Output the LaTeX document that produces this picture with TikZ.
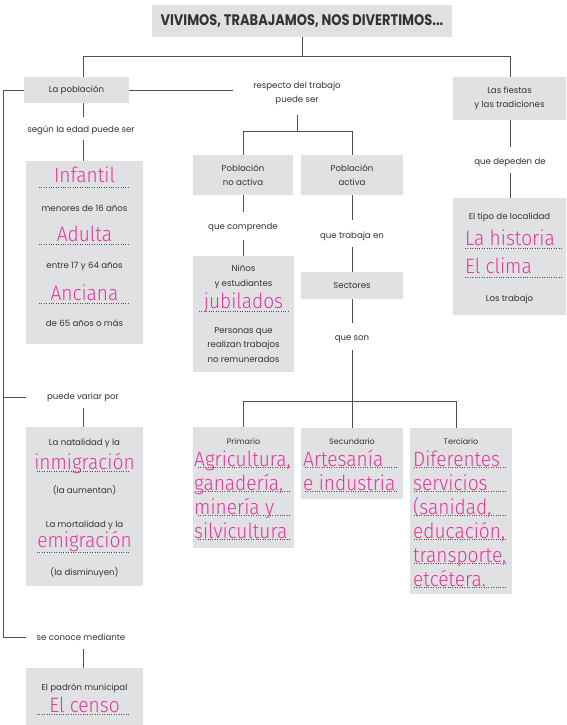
\documentclass[tikz,border=0pt]{standalone}
\usepackage{fontspec}
\setmainfont{Poppins}
\newfontfamily\handf{Fira Sans Light}[FakeStretch=0.92]
\newfontfamily\titlef{Poppins}[FakeStretch=0.85]
\definecolor{boxgray}{HTML}{E0E1E3}
\definecolor{txt}{HTML}{333333}
\definecolor{lin}{HTML}{505050}
\definecolor{pk}{HTML}{E8359B}
\definecolor{dotc}{HTML}{505050}
\newcommand\blk{\fontsize{8.6}{14.5}\selectfont}
\newcommand\hdr{\fontsize{8}{10}\selectfont}
\newcommand\pkf{\handf\fontsize{20.8}{24}\selectfont}
\tikzset{
 box/.style={fill=boxgray, inner sep=0pt, text=txt, align=center, font=\blk},
 lbl/.style={inner sep=0pt, text=txt, align=center, font=\blk},
 pink/.style={inner sep=0pt, text=pk, font=\pkf, anchor=base},
 pinkl/.style={inner sep=0pt, text=pk, font=\pkf, anchor=base west},
 dots/.style={draw=dotc, line width=0.7pt, dash pattern=on 0.7pt off 1.7pt},
 conn/.style={draw=lin, line width=0.9pt},
}
\begin{document}
\begin{tikzpicture}[x=1pt,y=-1pt]
\useasboundingbox[fill=white] (0,0) rectangle (566,725);
% column coordinates
\coordinate (cL) at (83,0);
\coordinate (cR) at (510,0);
\coordinate (cM) at (297,0);
\coordinate (cA) at (243,0);
\coordinate (cC) at (456,0);

% ---- boxes ----
\node[box, minimum width=300, minimum height=32, font=\titlef\bfseries\fontsize{15.3}{17}\selectfont] (title) at (302,21) {VIVIMOS, TRABAJAMOS, NOS DIVERTIMOS...};
\node[box, minimum width=105, minimum height=26] (pob) at (76.5,90) {La población};
\node[lbl] (resp) at (297,93.5) {respecto del trabajo\\puede ser};
\node[box, minimum width=113, minimum height=43] (fiestas) at (509.5,98.5) {Las fiestas\\y las tradiciones};

\node[lbl] (segun) at (81,130) {según la edad puede ser};
\node[box, minimum width=117, minimum height=183] (age) at (84.5,252.5) {};
\node[lbl] (variar) at (83,397) {puede variar por};
\node[box, minimum width=117, minimum height=159] (nat) at (84.5,506.5) {};
\node[lbl] (conoce) at (81,637) {se conoce mediante};
\node[box, minimum width=117, minimum height=58] (padron) at (84.5,697) {};

\node[box, minimum width=100, minimum height=40] (noact) at (243,175) {Población\\no activa};
\node[box, minimum width=102, minimum height=40] (act) at (352,175) {Población\\activa};
\node[lbl] (comp) at (243,227) {que comprende};
\node[box, minimum width=101, minimum height=116] (ninos) at (243.5,314) {};
\node[lbl] (trab) at (352,236) {que trabaja en};
\node[box, minimum width=102, minimum height=27] (sect) at (352,285.5) {Sectores};
\node[lbl] (son) at (352,339) {que son};
\node[box, minimum width=101, minimum height=121] (prim) at (243.5,487.5) {};
\node[box, minimum width=102, minimum height=71] (sec) at (352,463.5) {};
\node[box, minimum width=102, minimum height=166] (ter) at (461,511) {};

\node[lbl] (dep) at (510,162) {que depeden de};
\node[box, minimum width=113, minimum height=117] (tipo) at (509.5,256.5) {};

% ---- connectors ----
\draw[conn] (title.south) -- ++(0,20);
\draw[conn] (pob.north -| cL) -- ++(0,-20) -| (fiestas.north -| cR);
\draw[conn] (pob.east) -- ++(104,0);
\draw[conn] (pob.west) -- ++(-20,0) coordinate (lt) -- (lt |- conoce) -- ++(22,0);
\draw[conn] (lt |- variar) -- ++(22,0);
\draw[conn] (pob.south -| cL) -- ++(0,14);
\draw[conn] (age.north -| cL) -- ++(0,-21);
\draw[conn] (nat.north -| cL) -- ++(0,-19);
\draw[conn] (padron.north -| cL) -- ++(0,-19);

\draw[conn] (noact.north) -- ++(0,-23) coordinate (m1) -| (act.north);
\draw[conn] (m1 -| cM) -- ++(0,-17);
\draw[conn] (noact.south) -- ++(0,17);
\draw[conn] (ninos.north) -- ++(0,-16);
\draw[conn] (act.south) -- ++(0,25);
\draw[conn] (sect.north) -- ++(0,-25);
\draw[conn] (sect.south) -- ++(0,24);
\draw[conn] (sec.north) -- ++(0,-78);
\draw[conn] (prim.north -| cA) -- ++(0,-25) -| (ter.north -| cC);

\draw[conn] (fiestas.south -| cR) -- ++(0,27);
\draw[conn] (tipo.north -| cR) -- ++(0,-25);

% ---- age box ----
\node[pink] (inf) at (84.5,182) {Infantil};
\draw[dots] (39,187) -- (129,187);
\node[lbl] (men) at (84.5,208) {menores de 16 años};
\node[pink] (adu) at (84.5,241) {Adulta};
\draw[dots] (39,244.5) -- (129,244.5);
\node[lbl] (ent) at (84.5,266) {entre 17 y 64 años};
\node[pink] (anc) at (84.5,300) {Anciana};
\draw[dots] (39,303) -- (129,303);
\node[lbl] (d65) at (84.5,323) {de 65 años o más};

% ---- natalidad box ----
\node[lbl] (nat1) at (84.5,443) {La natalidad y la};
\node[pink] (inm) at (84.5,469) {inmigración};
\draw[dots] (37,471) -- (129,471);
\node[lbl] (aum) at (84.5,490) {(la aumentan)};
\node[lbl] (mor) at (84.5,525) {La mortalidad y la};
\node[pink] (emi) at (84.5,547) {emigración};
\draw[dots] (37,552) -- (129,552);
\node[lbl] (dis) at (84.5,573) {(la disminuyen)};

% ---- padron box ----
\node[lbl] (pm) at (84.5,688) {El padrón municipal};
\node[pink] (cen) at (84.5,712) {El censo};
\draw[dots] (37,714) -- (129,714);

% ---- ninos box ----
\node[lbl] (ni) at (243.5,277) {Niños\\y estudiantes};
\node[pink] (jub) at (243.5,308) {jubilados};
\draw[dots] (199,311) -- (288,311);
\node[lbl] (per) at (243.5,345) {Personas que\\realizan trabajos\\no remunerados};

% ---- tipo box ----
\node[lbl] (tl) at (509.5,217) {El tipo de localidad};
\node[pinkl] (his) at (465,245) {La historia};
\draw[dots] (465,248) -- (562,248);
\node[pinkl] (cli) at (465,273) {El clima};
\draw[dots] (465,277) -- (562,277);
\node[lbl] (lt2) at (509.5,299) {Los trabajo};

% ---- sector boxes ----
\node[lbl, font=\hdr] (hp) at (243.5,441) {Primario};
\node[lbl, font=\hdr] (hs) at (352,441) {Secundario};
\node[lbl, font=\hdr] (ht) at (461,441) {Terciario};

\foreach \y in {467,491,515,539} \draw[dots] (198,\y) -- (290,\y);
\node[pinkl] (a1) at (194,466) {Agricultura,};
\node[pinkl] (a2) at (194,490) {ganadería,};
\node[pinkl] (a3) at (194,514) {minería y};
\node[pinkl] (a4) at (194,538) {silvicultura};

\foreach \y in {467,491} \draw[dots] (305,\y) -- (398,\y);
\node[pinkl] (b1) at (303,466) {Artesanía};
\node[pinkl] (b2) at (303,490) {e industria};

\foreach \y in {467,491,515,539,563,587} \draw[dots] (414,\y) -- (506,\y);
\node[pinkl] (c1) at (413,466) {Diferentes};
\node[pinkl] (c2) at (413,490) {servicios};
\node[pinkl] (c3) at (413,514) {(sanidad,};
\node[pinkl] (c4) at (413,538) {educación,};
\node[pinkl] (c5) at (413,562) {transporte,};
\node[pinkl] (c6) at (413,586) {etcétera.};
\end{tikzpicture}
\end{document}
